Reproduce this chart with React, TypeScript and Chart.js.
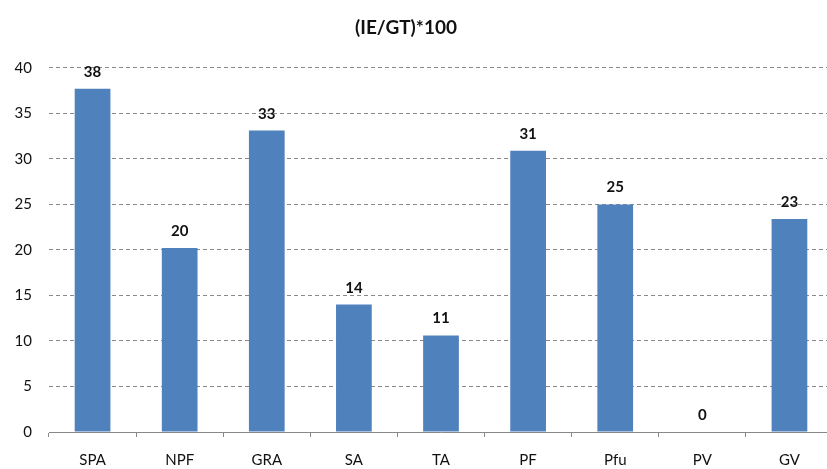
import React, { useEffect, useRef } from "react";
import { Chart, registerables } from "chart.js";

Chart.register(...registerables);

const categories = ["SPA", "NPF", "GRA", "SA", "TA", "PF", "Pfu", "PV", "GV"];
const values = [37.7, 20.2, 33.1, 14.0, 10.6, 30.9, 25.0, 0, 23.4];
const labels = ["38", "20", "33", "14", "11", "31", "25", "0", "23"];
const yTicks = [0, 5, 10, 15, 20, 25, 30, 35, 40];
const title = "(IE/GT)*100";

const FONT = "Lato, 'Open Sans', sans-serif";

const valueLabels = {
  id: "valueLabels",
  afterDatasetsDraw(chart: any) {
    const ctx = chart.ctx;
    const meta = chart.getDatasetMeta(0);
    ctx.save();
    ctx.font = `bold 15px ${FONT}`;
    ctx.fillStyle = "#111";
    ctx.textAlign = "center";
    ctx.textBaseline = "alphabetic";
    meta.data.forEach((bar: any, i: number) => {
      ctx.fillText(labels[i], bar.x, bar.y - 12);
    });
    // title, centred a little left of the canvas centre as in the original
    ctx.font = `bold 19px ${FONT}`;
    ctx.textBaseline = "middle";
    ctx.fillText(title, 406, 27.4);
    ctx.restore();
  },
};

export default function App() {
  const ref = useRef<HTMLCanvasElement>(null);
  useEffect(() => {
    document.body.style.margin = "0";
    document.body.style.overflow = "hidden";
    const chart = new Chart(ref.current!, {
      type: "bar",
      data: {
        labels: categories,
        datasets: [
          {
            data: values,
            backgroundColor: "#4F81BD",
            barPercentage: 0.41,
            categoryPercentage: 1,
          },
        ],
      },
      options: {
        animation: false,
        responsive: false,
        maintainAspectRatio: false,
        layout: { padding: { left: 0, right: 7, top: 0, bottom: 0 } },
        plugins: {
          legend: { display: false },
          tooltip: { enabled: false },
          title: {
            display: true,
            text: title,
            color: "rgba(0,0,0,0)",
            font: { family: FONT, size: 19, weight: "bold" },
            padding: { top: 16, bottom: 29 },
          },
        },
        scales: {
          x: {
            grid: {
              offset: true,
              drawOnChartArea: false,
              drawTicks: true,
              tickLength: 5,
              color: "#888",
            },
            border: { display: true, color: "#888", width: 1 },
            ticks: {
              color: "#111",
              font: { family: FONT, size: 15 },
              padding: 14,
              maxRotation: 0,
            },
            afterFit(scale: any) {
              scale.height = 37;
            },
          },
          y: {
            min: 0,
            max: 40,
            afterBuildTicks(scale: any) {
              scale.ticks = yTicks.map((v) => ({ value: v }));
            },
            grid: {
              drawTicks: false,
              color: (c: any) => (c.tick && c.tick.value === 0 ? "rgba(0,0,0,0)" : "#8a8a8a"),
              lineWidth: 1,
            },
            border: { display: false, dash: [4, 3] },
            ticks: {
              color: "#111",
              font: { family: FONT, size: 15 },
              padding: 17,
            },
            afterFit(scale: any) {
              scale.width = 49;
            },
          },
        },
      },
      plugins: [valueLabels],
    });
    return () => chart.destroy();
  }, []);
  return (
    <div style={{ position: "fixed", left: 0, top: 0, width: 840, height: 469 }}>
      <canvas ref={ref} width={840} height={469} style={{ width: 840, height: 469 }} />
    </div>
  );
}
